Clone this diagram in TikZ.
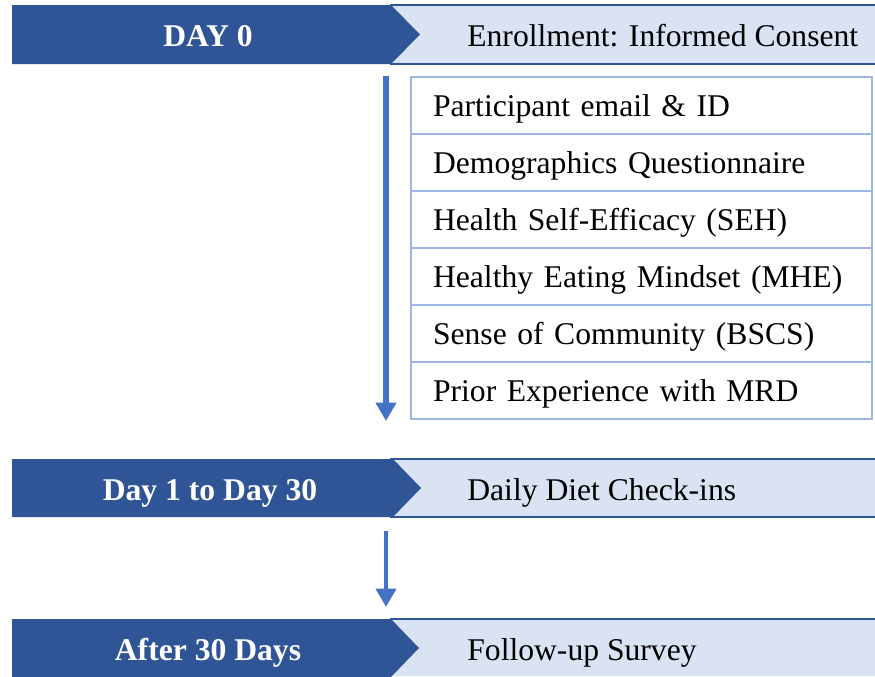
\documentclass[tikz,border=0pt]{standalone}
\usepackage{fontspec}
\setmainfont{Liberation Serif}
\usetikzlibrary{arrows.meta,positioning,calc}
\definecolor{navy}{HTML}{2F5597}
\definecolor{pale}{HTML}{DAE3F3}
\definecolor{flowblue}{HTML}{4472C4}
\definecolor{rim}{HTML}{9DB5E2}

\tikzset{
  phase/.style={font=\bfseries\fontsize{18}{21}\selectfont,text=white,anchor=base,inner sep=0pt},
  what/.style={anchor=base west,inner sep=0pt},
  item/.style={draw=rim,line width=1.2pt,anchor=north west,
    minimum width=9.22cm,minimum height=1.14cm,text width=8.34cm,
    inner xsep=0.44cm,align=left,text height=16pt,text depth=4pt},
  flow/.style={flowblue,line width=3.4pt,-{Triangle[width=11.2pt,length=10.4pt]}}
}

\begin{document}
\begin{tikzpicture}[x=0.02cm,y=-0.02cm,font=\fontsize{18}{21}\selectfont]
\useasboundingbox (0,0) rectangle (875,676);
% day 0 band
\fill[pale] (390,5) rectangle (875,64);
\draw[navy,line width=0.8pt] (390,5)--(875,5);
\draw[navy,line width=1.6pt] (390,64)--(875,64);
\fill[navy] (12,5)--(391,5)--(420,34.5)--(391,64)--(12,64)--cycle;
\node[phase] (day0) at (208,46) {DAY 0};
\node[what] (enrol) at (467,46) {Enrollment: Informed Consent};
% baseline measures
\node[item] (email) at (410,76)  {Participant email \& ID};
\node[item] (demo)  at (410,133) {Demographics Questionnaire};
\node[item] (seh)   at (410,190) {Health Self-Efficacy (SEH)};
\node[item] (mhe)   at (410,247) {Healthy Eating Mindset (MHE)};
\node[item] (bscs)  at (410,304) {Sense of Community (BSCS)};
\node[item] (mrd)   at (410,361) {Prior Experience with MRD};
\coordinate (a0) at (386,76);
\coordinate (a1) at (386,421);
\draw[flow] (a0)--(a1);
% day 1 to day 30 band
\fill[pale] (390,459) rectangle (875,517);
\draw[navy,line width=0.8pt] (390,459)--(875,459);
\draw[navy,line width=1.6pt] (390,517)--(875,517);
\fill[navy] (12,459)--(393,459)--(421,488)--(393,517)--(12,517)--cycle;
\node[phase] (day1) at (210,500) {Day 1 to Day 30};
\node[what] (checkin) at (467,500) {Daily Diet Check-ins};
\coordinate (b0) at (386,531);
\coordinate (b1) at (386,607);
\draw[flow,line width=2.8pt] (b0)--(b1);
% follow-up band
\fill[pale] (390,619) rectangle (875,676);
\draw[navy,line width=1.6pt] (390,619)--(875,619);
\fill[navy] (12,619)--(391,619)--(419,648)--(391,677)--(12,677)--cycle;
\node[phase] (after) at (208,660) {After 30 Days};
\node[what] (survey) at (467,660) {Follow-up Survey};
\end{tikzpicture}
\end{document}
